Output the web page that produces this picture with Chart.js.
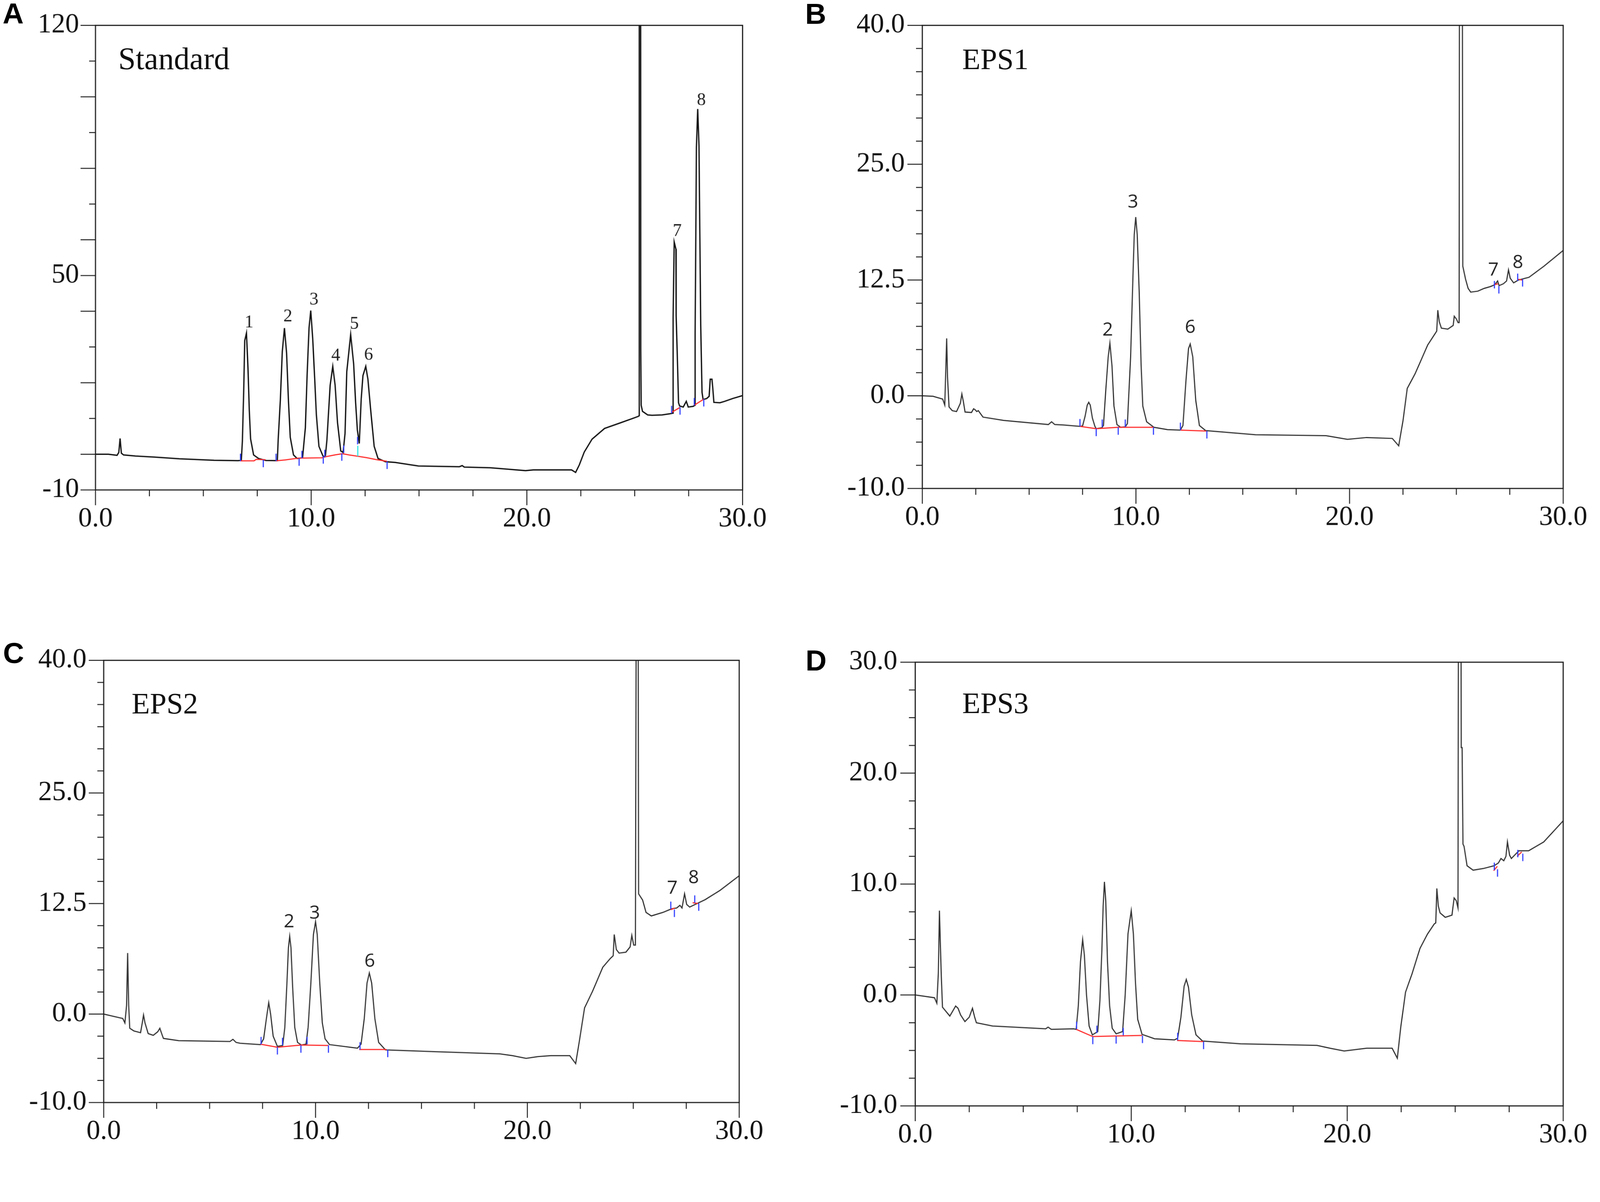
<!DOCTYPE html>
<html>
<head>
<meta charset="utf-8">
<script src="https://cdn.jsdelivr.net/npm/chart.js@4.4.1/dist/chart.umd.min.js"></script>
<style>
  html, body { margin: 0; padding: 0; background: #fff; overflow: hidden; }
  #stage { position: absolute; left: 0; top: 0; width: 4290px; height: 3078px; transform-origin: 0 0; }
  canvas { position: absolute; }
  .tag { position: absolute; font-family: "Liberation Sans", Arial, sans-serif; font-weight: bold; font-size: 78px; line-height: 1; color: #000; }
  .name { position: absolute; font-family: "Liberation Serif", "Times New Roman", serif; font-size: 80px; line-height: 1; color: #111; }
</style>
</head>
<body>
<div id="stage">
<canvas id="chartA" width="2145" height="1539" style="left:0;top:0"></canvas>
<canvas id="chartB" width="2145" height="1539" style="left:2145px;top:0"></canvas>
<canvas id="chartC" width="2145" height="1539" style="left:0;top:1539px"></canvas>
<canvas id="chartD" width="2145" height="1539" style="left:2145px;top:1539px"></canvas>

<div class="tag" style="left:7px;top:-3px">A</div>
<div class="tag" style="left:2159px;top:-2px">B</div>
<div class="tag" style="left:8px;top:1712px">C</div>
<div class="tag" style="left:2160px;top:1732px">D</div>

<div class="name" style="left:317px;top:115px;font-size:84px">Standard</div>
<div class="name" style="left:2580px;top:118px">EPS1</div>
<div class="name" style="left:353px;top:1847px">EPS2</div>
<div class="name" style="left:2580px;top:1845px">EPS3</div>
</div>

<script>
// the window can come out narrower than 4290px, so shrink the whole drawing evenly to fit
const stage = document.getElementById('stage');
const fit = Math.min(1, window.innerWidth / 4290, window.innerHeight / 3078);
stage.style.transform = 'scale(' + fit + ')';

// retention time (min) axis, shared by all panels
const timeTicks = [0, 10, 20, 30];
const timeLabels = ['0.0', '10.0', '20.0', '30.0'];

// ---- A: standard ----
const stdTicks = [120, 50, -10];
const stdLabels = ['120', '50', '-10'];
const stdTrace = [
  [0, 0.0], [0.6, 0.0], [1.0, -0.3], [1.08, 0.5], [1.14, 4.4], [1.2, 0.3], [1.3, -0.2], [1.85, -0.5],
  [2.7, -0.8], [3.9, -1.3], [5.5, -1.7], [6.6, -1.8], [6.76, -1.75],
  [6.81, 3.7], [6.87, 17.3], [6.92, 31.8], [7.0, 33.9], [7.07, 24.1], [7.13, 12.3], [7.19, 4.3],
  [7.33, -0.2], [7.56, -1.2], [7.9, -1.75], [8.43, -1.8],
  [8.47, 4.0], [8.57, 15.1], [8.66, 28.7], [8.76, 35.3], [8.86, 28.3], [8.95, 14.4], [9.03, 4.7],
  [9.18, -0.2], [9.35, -1.2], [9.6, -1.0],
  [9.73, 7.4], [9.81, 22.0], [9.9, 35.3], [9.98, 40.2], [10.07, 32.5], [10.16, 21.4], [10.24, 11.0],
  [10.36, 2.2], [10.56, -0.7], [10.66, -0.4],
  [10.73, 4.0], [10.88, 19.3], [11.0, 24.6], [11.11, 19.3], [11.22, 8.9], [11.37, 0.9], [11.48, 0.5],
  [11.57, 5.8], [11.65, 23.1], [11.83, 33.5], [11.97, 25.2], [12.06, 14.4], [12.14, 6.8], [12.23, 3.0],
  [12.32, 15.5], [12.4, 22.0], [12.53, 24.6], [12.63, 21.0], [12.78, 11.0], [12.92, 2.2], [13.1, -1.2],
  [13.44, -2.1], [13.9, -2.3], [14.97, -3.3], [16.87, -3.5], [17.0, -3.2], [17.1, -3.6], [18.3, -3.8],
  [19.94, -4.6], [20.3, -4.4], [22.07, -4.4], [22.26, -5.1], [22.43, -3.0], [22.66, 0.6], [23.02, 4.2],
  [23.6, 7.2], [24.3, 8.7], [24.62, 9.4], [24.9, 10.0], [25.17, 10.6],
  [25.2, 10.8], [25.21, 200], [25.27, 200], [25.28, 29.2], [25.3, 13.7], [25.36, 12.0], [25.6, 11.0],
  [25.8, 10.9], [26.27, 11.0], [26.62, 11.3], [26.77, 11.5],
  [26.78, 38.2], [26.83, 59.4], [26.91, 57.4], [26.92, 38.8], [26.97, 28.3], [27.03, 14.4], [27.08, 13.5],
  [27.25, 13.2], [27.39, 14.8], [27.48, 13.2], [27.71, 13.4], [27.79, 13.7],
  [27.8, 33.9], [27.86, 85.8], [27.92, 96.6], [27.98, 86.3], [28.06, 36.0], [28.12, 17.3], [28.17, 15.3],
  [28.34, 15.6], [28.45, 16.2], [28.5, 21.0], [28.58, 21.0], [28.62, 18.4], [28.67, 14.5], [28.95, 14.4],
  [29.17, 14.8], [29.55, 15.6], [30, 16.4]
];
const stdBaseline = [
  [6.71, -1.85], [7.35, -1.85], [7.45, -1.45], [7.88, -1.55], [7.9, null],
  [8.36, -1.85], [8.8, -1.6], [9.4, -1.1], [10.5, -1.0], [10.75, -0.6], [11.1, -0.2], [11.45, 0.15],
  [11.75, -0.2], [12.2, -0.6], [12.6, -1.0], [13.0, -1.5], [13.52, -2.0], [13.6, null],
  [26.71, 11.7], [27.1, 13.1], [27.2, null], [27.76, 13.7], [28.2, 15.4]
];
const stdMarks = [
  [6.72, -0.9], [7.78, -2.6], [8.37, -0.9], [9.44, -2.2], [9.57, -0.1], [10.56, -1.6], [10.63, 0.2],
  [11.42, -0.8], [11.51, 1.4], [12.15, 3.8], [13.52, -3.1],
  [26.71, 12.5], [27.1, 12.1], [27.76, 14.7], [28.2, 14.4]
];
const stdCyanMarks = [[12.16, 0.9]];
const stdPeakNames = ['1', '2', '3', '4', '5', '6', '7', '8'];
const stdPeakX = [7.12, 8.92, 10.13, 11.14, 12.0, 12.66, 26.97, 28.09];
const stdPeakY = [35.5, 37.2, 41.9, 26.2, 35.1, 26.4, 61.1, 97.7];

// ---- B: EPS1 ----
const eps1Ticks = [40, 25, 12.5, 0, -10];
const eps1Labels = ['40.0', '25.0', '12.5', '0.0', '-10.0'];
const eps1Trace = [
  [0, 0.0], [0.5, -0.05], [0.95, -0.35], [1.05, -1.0], [1.1, 3.0], [1.14, 6.2], [1.18, 2.0], [1.25, -1.2],
  [1.4, -1.6], [1.6, -1.7], [1.78, -0.8], [1.85, 0.2], [1.92, -0.6], [2.0, -1.75], [2.3, -1.8], [2.4, -1.4],
  [2.47, -1.5], [2.55, -1.7], [2.62, -1.6], [2.84, -2.3], [3.8, -2.65], [5.9, -3.1], [6.05, -2.8],
  [6.2, -3.1], [6.6, -3.15], [7.38, -3.3], [7.5, -3.25],
  [7.62, -2.2], [7.72, -1.0], [7.79, -0.7], [7.86, -1.0], [7.96, -2.4], [8.08, -3.3], [8.14, -3.55], [8.4, -3.45],
  [8.48, -3.2], [8.59, 0.7], [8.7, 4.2], [8.78, 5.7], [8.88, 3.2], [8.97, -1.1], [9.11, -3.1], [9.28, -3.4], [9.5, -3.35],
  [9.6, -3.0], [9.75, 4.2], [9.86, 13.0], [9.92, 17.4], [9.99, 19.3], [10.06, 17.4], [10.15, 11.3], [10.24, 3.4],
  [10.32, -1.1], [10.5, -2.8], [10.84, -3.4], [11.48, -3.65], [12.08, -3.7],
  [12.2, -3.2], [12.34, 1.6], [12.46, 5.1], [12.54, 5.6], [12.66, 4.2], [12.8, -0.5], [12.97, -3.2], [13.26, -3.75],
  [15.6, -4.2], [18.9, -4.3], [19.9, -4.7], [20.8, -4.5], [22.0, -4.6], [22.3, -5.4], [22.5, -2.7], [22.7, 0.8],
  [23.07, 2.4], [23.66, 5.5], [24.0, 6.7], [24.08, 7.0], [24.13, 9.25], [24.2, 8.0], [24.3, 7.3], [24.6, 7.2],
  [24.85, 7.6], [24.9, 8.6], [25.0, 8.3], [25.08, 7.9], [25.13, 7.9],
  [25.15, 60], [25.27, 60], [25.3, 14.0], [25.43, 12.6], [25.55, 11.6], [25.67, 11.2], [26.0, 11.3], [26.3, 11.6],
  [26.6, 11.8], [26.8, 12.0], [26.93, 12.4], [27.0, 11.9], [27.2, 12.1], [27.35, 12.4], [27.44, 13.6], [27.52, 12.7],
  [27.68, 12.2], [27.9, 12.5], [28.4, 12.8], [29.1, 14.0], [30, 15.7]
];
const eps1Baseline = [
  [7.38, -3.3], [8.14, -3.55], [9.17, -3.4], [10.82, -3.4], [10.9, null],
  [12.08, -3.7], [13.29, -3.8], [13.4, null],
  [26.78, 12.0], [26.95, 12.1], [27.0, null], [27.85, 12.6], [28.08, 12.5]
];
const eps1Marks = [
  [7.38, -2.9], [8.14, -3.95], [8.42, -2.95], [9.17, -3.8], [9.5, -2.95], [10.82, -3.8], [12.08, -3.3], [13.32, -4.2],
  [26.78, 12.0], [26.99, 11.45], [27.87, 12.8], [28.1, 12.2]
];
const eps1PeakNames = ['2', '3', '6', '7', '8'];
const eps1PeakX = [8.68, 9.86, 12.54, 26.73, 27.88];
const eps1PeakY = [6.5, 20.3, 6.8, 13.0, 13.8];

// ---- C: EPS2 ----
const eps2Ticks = [40, 25, 12.5, 0, -10];
const eps2Labels = ['40.0', '25.0', '12.5', '0.0', '-10.0'];
const eps2Trace = [
  [0, 0.0], [0.9, -0.5], [1.0, -1.0], [1.08, 1.0], [1.13, 6.9], [1.18, 1.0], [1.23, -1.6], [1.42, -1.9],
  [1.74, -2.1], [1.82, -1.0], [1.88, -0.1], [1.95, -1.0], [2.1, -2.2], [2.34, -2.4], [2.55, -2.0], [2.65, -1.6],
  [2.75, -2.3], [2.82, -2.75], [3.54, -3.0], [5.96, -3.1], [6.1, -2.85], [6.25, -3.2], [6.44, -3.3], [7.4, -3.45],
  [7.55, -2.8], [7.68, -0.5], [7.79, 1.3], [7.88, 0.0], [8.0, -2.5], [8.2, -3.65], [8.45, -3.55],
  [8.55, -1.5], [8.65, 3.5], [8.72, 7.5], [8.78, 8.8], [8.84, 7.5], [8.92, 3.0], [9.02, -1.5], [9.15, -3.2],
  [9.33, -3.5], [9.55, -3.4],
  [9.65, -1.5], [9.78, 3.5], [9.9, 9.0], [10.0, 10.45], [10.08, 9.0], [10.2, 3.5], [10.32, -1.0], [10.45, -2.8],
  [10.66, -3.45], [11.98, -3.85],
  [12.15, -3.4], [12.3, -0.5], [12.43, 3.5], [12.54, 4.65], [12.65, 3.5], [12.8, -0.5], [12.98, -3.2], [13.3, -4.05],
  [15.6, -4.25], [18.7, -4.5], [19.3, -4.7], [19.94, -5.0], [20.5, -4.8], [21.1, -4.7], [22.0, -4.7], [22.28, -5.6],
  [22.47, -2.8], [22.7, 0.7], [23.08, 2.6], [23.56, 5.3], [23.92, 6.3], [24.05, 6.6], [24.1, 9.0], [24.2, 7.3],
  [24.33, 6.9], [24.65, 7.0], [24.85, 7.6], [24.93, 8.9], [25.02, 7.8], [25.1, 7.8],
  [25.15, 60], [25.22, 60], [25.25, 13.6], [25.44, 12.9], [25.6, 11.5], [25.85, 11.1], [26.4, 11.5], [26.8, 11.9],
  [27.05, 12.0], [27.2, 12.3], [27.3, 12.0], [27.42, 13.6], [27.52, 12.4], [27.66, 12.1], [28.4, 12.95],
  [29.1, 14.0], [30, 15.65]
];
const eps2Baseline = [
  [7.4, -3.4], [8.2, -3.75], [9.33, -3.5], [10.6, -3.55], [10.7, null],
  [12.06, -4.0], [13.35, -4.0], [13.45, null],
  [26.77, 11.8], [26.95, 12.0], [27.0, null], [27.8, 12.6], [28.05, 12.5]
];
const eps2Marks = [
  [7.43, -3.0], [8.2, -4.15], [8.44, -3.1], [9.31, -3.95], [9.6, -3.0], [10.61, -3.95], [12.1, -3.6], [13.41, -4.45],
  [26.77, 12.3], [26.94, 11.4], [27.9, 13.0], [28.09, 12.1]
];
const eps2PeakNames = ['2', '3', '6', '7', '8'];
const eps2PeakX = [8.75, 9.96, 12.56, 26.84, 27.85];
const eps2PeakY = [9.8, 10.8, 5.35, 13.6, 14.8];

// ---- D: EPS3 ----
const eps3Ticks = [30, 20, 10, 0, -10];
const eps3Labels = ['30.0', '20.0', '10.0', '0.0', '-10.0'];
const eps3Trace = [
  [0, 0.0], [0.89, -0.25], [1.0, -0.75], [1.07, 2.0], [1.12, 7.6], [1.15, 5.5], [1.2, 2.0], [1.26, -1.1],
  [1.6, -1.9], [1.78, -1.3], [1.87, -1.0], [1.98, -1.2], [2.1, -1.8], [2.3, -2.4], [2.5, -2.0], [2.65, -1.2],
  [2.75, -2.0], [2.83, -2.5], [3.58, -2.8], [6.04, -3.05], [6.15, -2.9], [6.3, -3.1], [7.33, -3.05],
  [7.45, -3.1], [7.55, -1.0], [7.65, 3.0], [7.75, 5.0], [7.83, 3.6], [7.93, 0.0], [8.05, -2.8], [8.2, -3.6],
  [8.45, -3.3], [8.55, -0.5], [8.64, 4.0], [8.7, 8.0], [8.76, 10.2], [8.82, 8.5], [8.9, 3.0], [9.0, -1.0],
  [9.12, -3.0], [9.3, -3.5], [9.6, -3.3],
  [9.72, 0.0], [9.85, 5.5], [10.0, 7.6], [10.1, 5.5], [10.2, 1.0], [10.3, -2.2], [10.5, -3.55], [11.08, -3.95],
  [12.0, -4.05], [12.15, -3.9],
  [12.3, -2.0], [12.45, 0.8], [12.55, 1.4], [12.65, 0.7], [12.8, -1.8], [13.0, -3.6], [13.3, -4.15],
  [15.06, -4.4], [18.6, -4.55], [19.2, -4.8], [19.86, -5.05], [20.9, -4.8], [22.08, -4.8], [22.32, -5.7],
  [22.48, -2.9], [22.7, 0.25], [23.0, 1.9], [23.37, 4.2], [23.72, 5.5], [24.03, 6.4], [24.1, 6.5], [24.15, 9.6],
  [24.22, 8.0], [24.3, 7.4], [24.54, 7.0], [24.85, 7.2], [24.95, 8.75], [25.05, 8.5], [25.13, 7.85],
  [25.17, 60], [25.24, 60], [25.28, 22.3], [25.32, 22.3], [25.36, 13.6], [25.41, 13.4], [25.55, 11.65],
  [25.83, 11.25], [26.3, 11.4], [26.8, 11.65], [27.0, 11.9], [27.12, 12.3], [27.25, 12.1], [27.35, 12.5],
  [27.42, 13.8], [27.52, 12.6], [27.6, 12.3], [27.95, 13.0], [28.4, 13.0], [29.1, 13.8], [30, 15.7]
];
const eps3Baseline = [
  [7.45, -3.1], [8.22, -3.75], [9.27, -3.7], [10.5, -3.65], [10.6, null],
  [12.12, -4.1], [13.34, -4.2], [13.45, null],
  [26.78, 11.2], [26.95, 11.6], [27.0, null], [27.87, 12.5], [28.08, 12.9]
];
const eps3Marks = [
  [7.47, -2.75], [8.22, -4.1], [8.41, -3.1], [9.3, -4.05], [9.63, -3.3], [10.52, -4.0], [12.15, -3.75], [13.35, -4.55],
  [26.81, 11.6], [26.96, 11.0], [27.9, 12.75], [28.13, 12.4]
];

// draws the box frame and the long/short tick marks
const frameTicks = {
  id: 'frameTicks',
  afterDraw(chart, args, opts) {
    const { ctx, chartArea: a, scales } = chart;
    const x = scales.x, y = scales.y;
    ctx.save();
    ctx.strokeStyle = '#1a1a1a';
    ctx.lineWidth = 3;
    ctx.strokeRect(a.left, a.top, a.right - a.left, a.bottom - a.top);
    ctx.lineWidth = 2.5;
    ctx.beginPath();
    for (let v = opts.yMin; v <= opts.yMax + 1e-9; v += opts.yStep) {
      const py = y.getPixelForValue(v);
      const len = opts.yLong.includes(v) ? 40 : 17;
      ctx.moveTo(a.left - len, py);
      ctx.lineTo(a.left, py);
    }
    for (let t = 0; t <= 30 + 1e-9; t += 2.5) {
      const px = x.getPixelForValue(t);
      const len = timeTicks.includes(t) ? 41 : 17;
      ctx.moveTo(px, a.bottom);
      ctx.lineTo(px, a.bottom + len);
    }
    ctx.stroke();
    ctx.restore();
  }
};

// numbers written over the peaks
const peakTags = {
  id: 'peakTags',
  afterDatasetsDraw(chart, args, opts) {
    if (!opts.names) return;
    const { ctx, scales } = chart;
    ctx.save();
    ctx.font = opts.font;
    ctx.fillStyle = opts.color;
    ctx.textAlign = 'center';
    ctx.textBaseline = 'alphabetic';
    opts.names.forEach((n, i) => {
      ctx.fillText(n, scales.x.getPixelForValue(opts.xs[i]), scales.y.getPixelForValue(opts.ys[i]));
    });
    ctx.restore();
  }
};

function makeChart(id, p) {
  const datasets = [
    { data: p.trace, borderColor: p.lineColor, borderWidth: p.lineWidth, pointRadius: 0, tension: 0, order: 3 },
    { data: p.baseline, borderColor: '#ff2a2a', borderWidth: 3, pointRadius: 0, tension: 0, spanGaps: false, order: 2 },
    { data: p.marks, showLine: false, pointStyle: 'line', rotation: 90, pointRadius: 10,
      borderColor: '#2f3dff', pointBorderWidth: 3, order: 1 }
  ];
  if (p.cyan) {
    datasets.push({ data: p.cyan, showLine: false, pointStyle: 'line', rotation: 90, pointRadius: 14,
      borderColor: '#2ee6e6', pointBorderWidth: 3, order: 1 });
  }
  return new Chart(document.getElementById(id), {
    type: 'line',
    data: { datasets },
    options: {
      responsive: false,
      animation: false,
      devicePixelRatio: 1,
      events: [],
      layout: { padding: { left: 0, top: p.padTop, right: p.padRight, bottom: p.padBottom } },
      scales: {
        x: {
          type: 'linear', min: 0, max: 30,
          afterFit: (s) => { s.height = 100; },
          afterBuildTicks: (s) => { s.ticks = timeTicks.map(v => ({ value: v })); },
          grid: { display: false, drawTicks: false },
          border: { display: false },
          ticks: {
            autoSkip: false, maxRotation: 0, padding: 34, color: '#111',
            font: { family: 'Liberation Serif', size: 74 },
            callback: (v) => timeLabels[timeTicks.indexOf(v)]
          }
        },
        y: {
          type: 'linear', min: p.yMin, max: p.yMax,
          afterFit: (s) => { s.width = p.axisWidth; },
          afterBuildTicks: (s) => { s.ticks = p.yTicks.map(v => ({ value: v })); },
          // invisible tick marks keep the label gap without padding the chart top
          grid: { display: true, drawOnChartArea: false, drawTicks: true, tickLength: p.labelGap, color: 'rgba(0,0,0,0)' },
          border: { display: false },
          ticks: {
            autoSkip: false, padding: 0, color: '#111',
            font: { family: 'Liberation Serif', size: 74 },
            callback: (v) => p.yLabels[p.yTicks.indexOf(v)]
          }
        }
      },
      plugins: {
        legend: { display: false },
        tooltip: { enabled: false },
        frameTicks: { yMin: p.yMin, yMax: p.yMax, yStep: p.yStep, yLong: p.yLong },
        peakTags: { names: p.names, xs: p.xs, ys: p.ys, font: p.tagFont, color: '#222' }
      }
    },
    plugins: [frameTicks, peakTags]
  });
}

makeChart('chartA', {
  trace: stdTrace, baseline: stdBaseline, marks: stdMarks, cyan: stdCyanMarks,
  lineColor: '#141414', lineWidth: 3.5,
  yMin: -10, yMax: 120, yStep: 10, yTicks: stdTicks, yLabels: stdLabels,
  yLong: [120, 100, 80, 60, 50, 40, 20, 0, -10],
  axisWidth: 256, padTop: 68, padRight: 154, padBottom: 125, labelGap: 44,
  names: stdPeakNames, xs: stdPeakX, ys: stdPeakY, tagFont: '48px "Liberation Serif"'
});
makeChart('chartB', {
  trace: eps1Trace, baseline: eps1Baseline, marks: eps1Marks,
  lineColor: '#333', lineWidth: 3,
  yMin: -10, yMax: 40, yStep: 2.5, yTicks: eps1Ticks, yLabels: eps1Labels, yLong: eps1Ticks,
  axisWidth: 328, padTop: 68, padRight: 82, padBottom: 129, labelGap: 47,
  names: eps1PeakNames, xs: eps1PeakX, ys: eps1PeakY, tagFont: '50px "Open Sans"'
});
makeChart('chartC', {
  trace: eps2Trace, baseline: eps2Baseline, marks: eps2Marks,
  lineColor: '#333', lineWidth: 3,
  yMin: -10, yMax: 40, yStep: 2.5, yTicks: eps2Ticks, yLabels: eps2Labels, yLong: eps2Ticks,
  axisWidth: 278, padTop: 232, padRight: 163, padBottom: 21, labelGap: 46,
  names: eps2PeakNames, xs: eps2PeakX, ys: eps2PeakY, tagFont: '50px "Open Sans"'
});
makeChart('chartD', {
  trace: eps3Trace, baseline: eps3Baseline, marks: eps3Marks,
  lineColor: '#333', lineWidth: 3,
  yMin: -10, yMax: 30, yStep: 2.5, yTicks: eps3Ticks, yLabels: eps3Labels, yLong: eps3Ticks,
  axisWidth: 309, padTop: 237, padRight: 82, padBottom: 12, labelGap: 48
});
</script>
</body>
</html>
